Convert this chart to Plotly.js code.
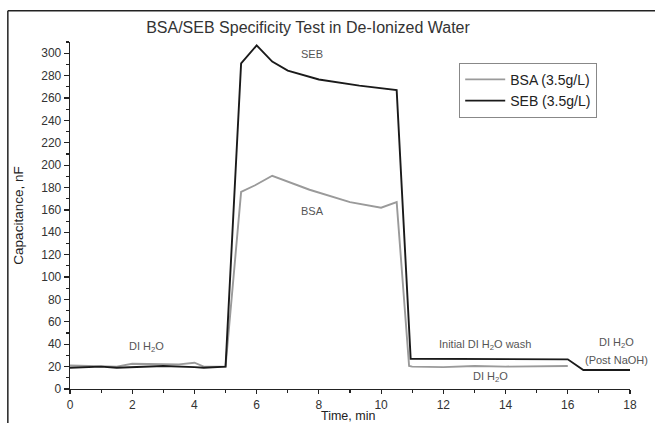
<!DOCTYPE html>
<html>
<head>
<meta charset="utf-8">
<script src="https://cdn.plot.ly/plotly-3.0.1.min.js"></script>
<style>html,body{margin:0;padding:0;background:#fff;}#chart{width:655px;height:423px;}</style>
</head>
<body>
<div id="chart"></div>
<script>
// Data
const bsaTime = [0, 1, 1.5, 2, 3, 3.5, 4, 4.3, 5, 5.5, 5.95, 6.5, 7.7, 9.0, 10.0, 10.5, 10.9, 11, 12, 13, 14, 15, 16];
const bsaCap  = [21, 20.5, 20, 22.5, 22, 22, 23.5, 20, 20, 176, 182, 190.5, 178, 167, 162, 167, 20.5, 20, 19.5, 20.5, 20, 20.5, 20.5];
const sebTime = [0, 1, 1.5, 2, 3, 4, 4.3, 5, 5.5, 6.0, 6.5, 7.0, 8.0, 9.3, 10.5, 10.95, 12, 13, 14, 15, 16, 16.5, 18];
const sebCap  = [19, 20, 19, 19.5, 20.5, 19.5, 19, 20, 291, 307, 292.5, 284.5, 276.5, 271, 267, 27, 27, 26.5, 27, 26.5, 26.5, 17, 17];

const labelText = ["SEB", "BSA", "DI H<sub>2</sub>O", "Initial DI H<sub>2</sub>O wash", "DI H<sub>2</sub>O", "DI H<sub>2</sub>O", "(Post NaOH)"];
const labelX    = [7.77, 7.8, 2.47, 13.34, 13.5, 17.57, 17.57];
const labelY    = [299, 159, 37.5, 39, 11, 41, 25.5];
const xTitle = "Time, min";

const FONT = "Liberation Sans, Arial, sans-serif";

const traces = [
  {x: bsaTime, y: bsaCap, mode: "lines", name: "BSA (3.5g/L)", line: {color: "#9a9a9a", width: 1.9}},
  {x: sebTime, y: sebCap, mode: "lines", name: "SEB (3.5g/L)", line: {color: "#1a1a1a", width: 1.9}}
];

const annotations = labelText.map((t, i) => ({
  x: labelX[i], y: labelY[i], xref: "x", yref: "y", text: t, showarrow: false,
  font: {family: FONT, size: 11, color: "#555"}
}));
annotations.push({x: 0.497, y: -0.078, xref: "paper", yref: "paper", xanchor: "center", yanchor: "middle",
  text: xTitle, showarrow: false, font: {family: FONT, size: 12.5, color: "#222"}});

const layout = {
  width: 655, height: 423,
  margin: {l: 70, r: 25, t: 42, b: 34},
  paper_bgcolor: "#fff", plot_bgcolor: "#fff",
  font: {family: FONT, color: "#222"},
  title: {text: "BSA/SEB Specificity Test in De-Ionized Water", x: 0.425, xref: "paper", xanchor: "center",
          y: 0.935, yref: "container", yanchor: "middle", font: {family: FONT, size: 16, color: "#333"}},
  xaxis: {range: [0, 18], dtick: 2, tick0: 0, ticks: "outside", ticklen: 4, tickwidth: 1.2, tickcolor: "#222",
          minor: {dtick: 1, ticks: "outside", ticklen: 3, tickcolor: "#222"},
          showline: true, linecolor: "#222", linewidth: 1.3, showgrid: false, zeroline: false,
          tickfont: {family: FONT, size: 12, color: "#333"}},
  yaxis: {range: [0, 310], dtick: 20, tick0: 0, ticks: "outside", ticklen: 5, tickwidth: 1.2, tickcolor: "#222",
          minor: {dtick: 10, ticks: "outside", ticklen: 3, tickcolor: "#222"},
          showline: true, linecolor: "#222", linewidth: 1.3, showgrid: false, zeroline: false,
          tickfont: {family: FONT, size: 12, color: "#333"},
          title: {text: "Capacitance, nF", font: {family: FONT, size: 13.5, color: "#222"}, standoff: 14}},
  legend: {x: 0.695, y: 0.94, xanchor: "left", yanchor: "top", bgcolor: "#fff",
           bordercolor: "#888", borderwidth: 1, font: {family: FONT, size: 14, color: "#222"},
           tracegroupgap: 0, itemwidth: 40},
  showlegend: true,
  annotations: annotations,
  shapes: [
    {type: "line", xref: "paper", yref: "paper", x0: -0.111, x1: 1.05, y0: 1.09, y1: 1.09, line: {color: "#222", width: 1.5}},
    {type: "line", xref: "paper", yref: "paper", x0: -0.111, x1: -0.111, y0: 1.09, y1: -0.1, line: {color: "#222", width: 1.5}}
  ]
};

Plotly.newPlot("chart", traces, layout, {displayModeBar: false, staticPlot: true});
</script>
</body>
</html>
